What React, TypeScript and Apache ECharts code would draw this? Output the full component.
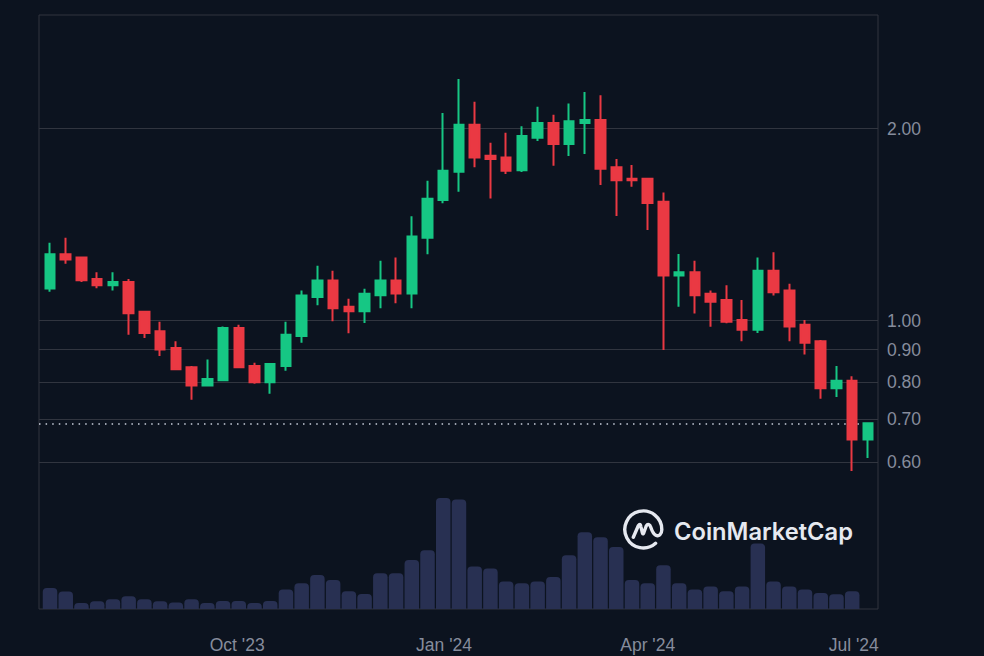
import React, { useEffect, useRef } from "react";
import * as echarts from "echarts";

const weeks = [0,1,2,3,4,5,6,7,8,9,10,11,12,13,14,15,16,17,18,19,20,21,22,23,24,25,26,27,28,29,30,31,32,33,34,35,36,37,38,39,40,41,42,43,44,45,46,47,48,49,50,51,52];
const opens = [1.123,1.270,1.256,1.162,1.136,1.149,1.032,0.962,0.906,0.845,0.791,0.806,0.973,0.849,0.800,0.849,0.946,1.089,1.156,1.051,1.034,1.096,1.156,1.103,1.348,1.545,1.711,2.028,1.813,1.802,1.720,1.935,2.040,1.891,2.040,2.062,1.739,1.668,1.668,1.536,1.177,1.190,1.102,1.077,1.002,0.967,1.197,1.115,0.985,0.928,0.783,0.805,0.651];
const closes = [1.270,1.247,1.157,1.136,1.149,1.027,0.956,0.901,0.839,0.791,0.810,0.973,0.845,0.800,0.855,0.950,1.095,1.156,1.045,1.034,1.102,1.156,1.103,1.355,1.552,1.717,2.028,1.802,1.791,1.717,1.946,2.040,1.891,2.053,2.062,1.730,1.659,1.659,1.528,1.177,1.190,1.096,1.070,0.996,0.967,1.197,1.108,0.979,0.923,0.783,0.805,0.651,0.690];
const lows = [1.110,1.228,1.149,1.124,1.115,0.950,0.939,0.880,0.838,0.751,0.790,0.805,0.844,0.796,0.768,0.834,0.923,1.057,0.997,0.955,0.991,1.045,1.064,1.045,1.270,1.527,1.592,1.739,1.554,1.697,1.709,1.912,1.749,1.811,1.824,1.631,1.458,1.621,1.386,0.899,1.051,1.026,0.978,0.990,0.928,0.956,1.095,0.928,0.885,0.754,0.759,0.581,0.609];
const highs = [1.324,1.348,1.258,1.190,1.190,1.162,1.032,0.996,0.928,0.849,0.869,0.979,0.985,0.859,0.855,0.996,1.115,1.219,1.197,1.082,1.122,1.241,1.256,1.457,1.657,2.115,2.391,2.203,1.900,1.970,2.016,2.164,2.102,2.190,2.282,2.255,1.791,1.753,1.668,1.588,1.271,1.241,1.115,1.136,1.077,1.256,1.279,1.142,1.002,0.932,0.849,0.818,0.690];
const volumes = [1.05,0.87,0.30,0.39,0.49,0.64,0.49,0.39,0.32,0.49,0.30,0.40,0.40,0.30,0.40,0.97,1.29,1.70,1.45,0.89,0.75,1.79,1.79,2.45,2.94,5.55,5.47,2.12,2.02,1.37,1.29,1.37,1.60,2.69,3.84,3.59,3.10,1.45,1.29,2.19,1.29,0.97,1.12,0.89,1.12,3.27,1.37,1.12,0.97,0.80,0.74,0.89];
const priceTicks = [2, 1, 0.9, 0.8, 0.7, 0.6];
const currentPrice = 0.689;
const dateTickWeeks = [11.9, 25.05, 38, 51.1];
const dateTickLabels = ["Oct '23", "Jan '24", "Apr '24", "Jul '24"];

const BG = "#0C131F";
const GRID = "#31353F";
const TEXT = "#868C9C";
const UP = "#16C784";
const DOWN = "#EA3943";
const VOL = "#283052";
const FONT = "'Liberation Sans', Arial, sans-serif";

echarts.graphic.registerShape(
  "cmcLogo",
  echarts.graphic.extendPath(
    "M12.3 14 A18.5 18.5 0 1 1 18.5 0.5 C18.5 5 15.5 7.5 12.5 6 C9.5 4.5 8.5 1 7.5 -2 C6.5 -5 4.5 -6 3 -3.5 L0.5 3.5 C-0.5 6 -1 3.5 -1.5 1 L-2.5 -3 C-3 -5.5 -4 -5 -5 -3.5 L-10 8",
    {}
  )
);

export default function App() {
  const ref = useRef<HTMLDivElement>(null);
  useEffect(() => {
    document.body.style.margin = "0";
    document.body.style.background = BG;
    const chart = echarts.init(ref.current!, undefined, { renderer: "svg" });
    chart.setOption({
      animation: false,
      backgroundColor: BG,
      grid: {
        show: true,
        left: 39,
        top: 15,
        width: 839,
        height: 594,
        borderColor: GRID,
        borderWidth: 1,
        backgroundColor: "transparent",
      },
      xAxis: {
        type: "value",
        min: -0.7,
        max: 52.64,
        splitLine: { show: false },
        axisLine: { show: false },
        axisTick: { show: false },
        axisLabel: {
          customValues: dateTickWeeks,
          formatter: (v: number) => dateTickLabels[dateTickWeeks.indexOf(v)] ?? "",
          color: TEXT,
          fontSize: 17.5,
          fontFamily: FONT,
          margin: 27,
          showMinLabel: true,
          showMaxLabel: true,
          hideOverlap: false,
        },
      },
      yAxis: [
        { type: "log", logBase: 10, min: 0.353, max: 3.013, show: false, scale: true },
        { type: "value", min: 0, max: 29.7, show: false },
      ],
      series: [
        {
          type: "bar",
          yAxisIndex: 1,
          barWidth: 14.5,
          silent: true,
          itemStyle: { color: VOL, borderRadius: [4, 4, 0, 0] },
          data: volumes.map((v, i) => [weeks[i], v]),
        },
        {
          type: "candlestick",
          yAxisIndex: 0,
          barWidth: 10,
          silent: true,
          z: 3,
          itemStyle: {
            color: UP,
            color0: DOWN,
            borderColor: UP,
            borderColor0: DOWN,
            borderWidth: 2,
          },
          data: weeks.map((w, i) => [w, opens[i], closes[i], lows[i], highs[i]]),
          markLine: {
            silent: true,
            z: 1,
            symbol: "none",
            animation: false,
            lineStyle: { color: GRID, width: 1, type: "solid" },
            label: {
              show: true,
              position: "end",
              color: TEXT,
              fontSize: 17.5,
              fontFamily: FONT,
              distance: 9,
            },
            data: [
              ...priceTicks.map((p) => ({
                yAxis: p,
                label: { formatter: p.toFixed(2) },
              })),
              [
                {
                  coord: [-0.7, currentPrice],
                  lineStyle: { color: "#C9CFDC", width: 1.5, type: [1.5, 5.1] },
                  label: { show: false },
                },
                { coord: [52, currentPrice] },
              ],
            ],
          },
        },
      ],
      graphic: [
        {
          type: "cmcLogo",
          x: 643.3,
          y: 529.3,
          z: 100,
          silent: true,
          style: {
            fill: "none",
            stroke: "#E6E9F0",
            lineWidth: 3.4,
            lineCap: "round",
            lineJoin: "round",
          },
        },
        {
          type: "text",
          x: 674,
          y: 531,
          z: 100,
          silent: true,
          style: {
            text: "CoinMarketCap",
            fill: "#E6E9F0",
            font: "600 23.7px Inter, sans-serif",
            verticalAlign: "middle",
          },
        },
      ],
    });
    return () => chart.dispose();
  }, []);
  return <div ref={ref} style={{ width: 984, height: 656 }} />;
}
